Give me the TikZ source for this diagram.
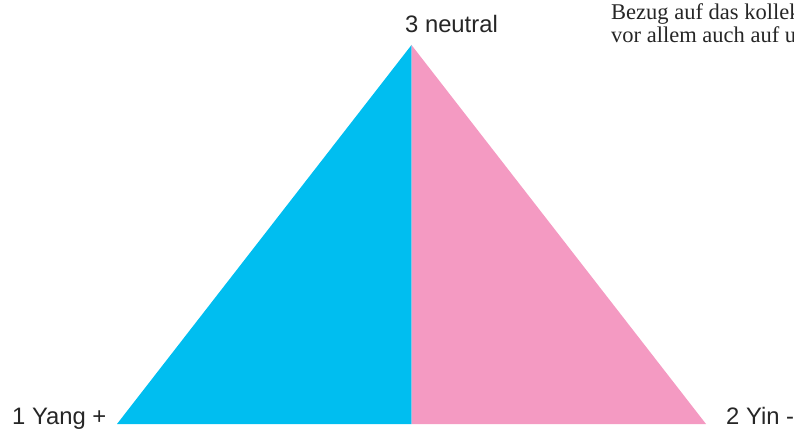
\documentclass[tikz,border=0pt]{standalone}
\usepackage{fontspec}
\setmainfont{Liberation Serif}
\setsansfont{Liberation Sans}
\usepackage{xcolor}
\usetikzlibrary{positioning}

\definecolor{yangblue}{HTML}{00BEF0}
\definecolor{yinpink}{HTML}{F49AC2}

\begin{document}
\begin{tikzpicture}[
    x=1pt, y=-1pt,
    pole/.style={
        font=\sffamily\fontsize{23.8}{28}\selectfont,
        text=black!85,
        inner sep=0pt,
        anchor=base west
    },
    prose/.style={
        font=\fontsize{22.5}{26}\selectfont,
        text=black!85,
        inner sep=0pt,
        anchor=base west
    }
]

\useasboundingbox (0,0) rectangle (794,428);

\coordinate (apex) at (411.5,45);
\coordinate (yang) at (117,424);
\coordinate (yin) at (706,424);
\coordinate (base) at (411.5,424);

\fill[yangblue] (apex) -- (yang) -- (base) -- cycle;
\fill[yinpink] (apex) -- (base) -- (yin) -- cycle;

\node[pole] (neutral) at (405,33) {3 neutral};
\node[pole] (yanglabel) at (12,424) {1 Yang +};
\node[pole] (yinlabel) at (726,424) {2 Yin -};

\begin{scope}
\clip (0,0) rectangle (794,428);
\node[prose] (line1) at (611,20) {Bezug auf das kollek};
\node[prose, below=23pt of line1.base west, anchor=base west] (line2) {vor allem auch auf u};
\end{scope}

\end{tikzpicture}
\end{document}
